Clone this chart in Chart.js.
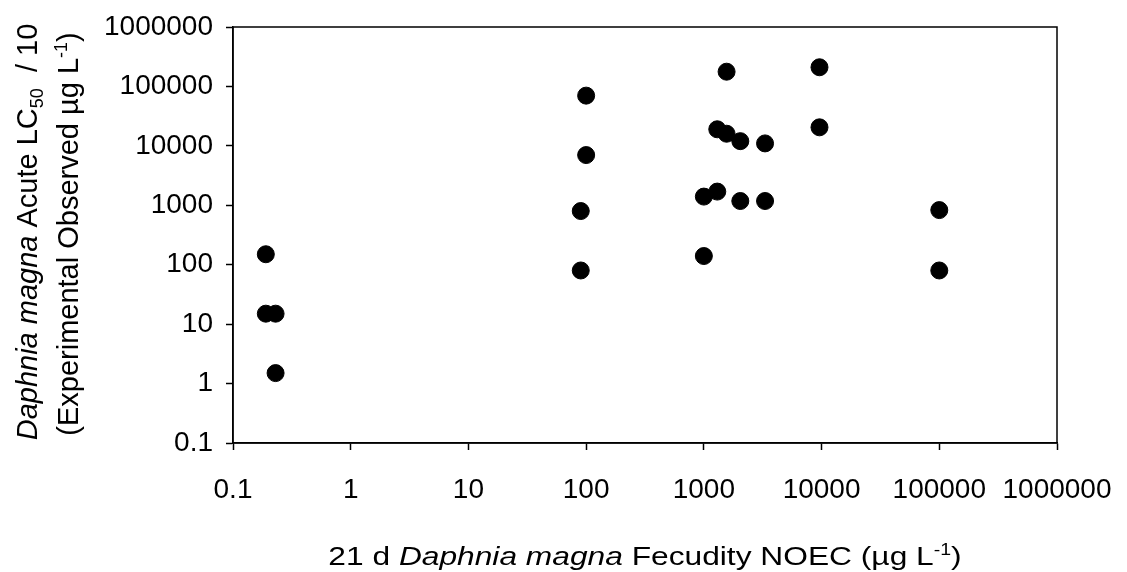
<!DOCTYPE html>
<html>
<head>
<meta charset="utf-8">
<script src="https://cdn.jsdelivr.net/npm/chart.js@4"></script>
<style>
  html, body { margin: 0; padding: 0; background: #fff; }
  #wrap { width: 1127px; height: 572px; position: relative; }
</style>
</head>
<body>
<div id="wrap"><canvas id="c" width="1127" height="572"></canvas></div>
<script>
// ---- data ----
const noecX = [0.19, 0.19, 0.23, 0.23, 100, 100, 90, 90, 1000, 1000, 1300, 1300, 1560, 1560, 2040, 2040, 3310, 3310, 9600, 9600, 100000, 100000];
const acuteY = [150, 15, 15, 1.5, 70000, 7000, 800, 80, 1400, 140, 1700, 19000, 177000, 16000, 12000, 1180, 11000, 1180, 210000, 20500, 830, 80];
const tickValues = [0.1, 1, 10, 100, 1000, 10000, 100000, 1000000];
const tickLabels = ['0.1', '1', '10', '100', '1000', '10000', '100000', '1000000'];

const FONT = "'Liberation Sans', Arial, sans-serif";

const points = noecX.map((x, i) => ({ x: x, y: acuteY[i] }));

function drawRuns(ctx, runs, size) {
  const fontFor = r => {
    if (r.style === 'i') return 'italic ' + size + 'px ' + FONT;
    if (r.style === 'sub' || r.style === 'sup') return Math.round(size * 0.62) + 'px ' + FONT;
    return size + 'px ' + FONT;
  };
  let total = 0;
  runs.forEach(r => { ctx.font = fontFor(r); r.w = ctx.measureText(r.t).width; total += r.w; });
  let x = -total / 2;
  runs.forEach(r => {
    ctx.font = fontFor(r);
    let dy = 0;
    if (r.style === 'sub') dy = size * 0.2;
    if (r.style === 'sup') dy = -size * 0.38;
    ctx.fillText(r.t, x, dy);
    x += r.w;
  });
}

const titlesPlugin = {
  id: 'titles',
  afterDraw(chart) {
    const ctx = chart.ctx;
    const ca = chart.chartArea;
    ctx.save();
    ctx.strokeStyle = '#000';
    ctx.lineWidth = 1.5;
    ctx.strokeRect(ca.left, ca.top, ca.right - ca.left, ca.bottom - ca.top);
    ctx.fillStyle = '#000';
    ctx.textBaseline = 'alphabetic';
    ctx.textAlign = 'left';
    // x title
    ctx.save();
    ctx.translate((ca.left + ca.right) / 2, 565);
    ctx.scale(1.22, 1);
    drawRuns(ctx, [
      { t: '21 d ', style: 'n' },
      { t: 'Daphnia magna', style: 'i' },
      { t: ' Fecudity NOEC (\u00b5g L', style: 'n' },
      { t: '-1', style: 'sup' },
      { t: ')', style: 'n' }
    ], 26);
    ctx.restore();
    // y title line 1
    const cy = (ca.top + ca.bottom) / 2 - 3;
    ctx.save();
    ctx.translate(37, cy);
    ctx.rotate(-Math.PI / 2);
    drawRuns(ctx, [
      { t: 'Daphnia magna', style: 'i' },
      { t: ' Acute LC', style: 'n' },
      { t: '50', style: 'sub' },
      { t: '  / 10', style: 'n' }
    ], 29);
    ctx.restore();
    // y title line 2
    ctx.save();
    ctx.translate(78, cy + 2);
    ctx.rotate(-Math.PI / 2);
    drawRuns(ctx, [
      { t: '(Experimental Observed \u00b5g L', style: 'n' },
      { t: '-1', style: 'sup' },
      { t: ')', style: 'n' }
    ], 29);
    ctx.restore();
    ctx.restore();
  }
};

const axisCommon = (fitFn) => ({
  type: 'logarithmic',
  min: 0.1,
  max: 1000000,
  afterBuildTicks(scale) { scale.ticks = tickValues.map(v => ({ value: v })); },
  afterFit: fitFn,
  grid: {
    display: true,
    drawOnChartArea: false,
    drawTicks: true,
    tickLength: 7,
    tickColor: '#000',
    tickWidth: 1.5
  },
  border: { display: true, color: '#000', width: 1.5 },
  ticks: {
    autoSkip: false,
    maxRotation: 0,
    minRotation: 0,
    color: '#000',
    font: { family: FONT, size: 28 },
    callback: function (v, i) { return tickLabels[i]; }
  }
});

const xAxis = axisCommon(s => { s.height = 129; s.paddingLeft = 0; s.paddingRight = 0; });
xAxis.ticks.padding = 23;
const yAxis = axisCommon(s => { s.width = 233; s.paddingTop = 0; s.paddingBottom = 0; });
yAxis.ticks.padding = 13;

new Chart(document.getElementById('c'), {
  type: 'scatter',
  data: {
    datasets: [{
      data: points,
      backgroundColor: '#000',
      borderColor: '#000',
      borderWidth: 1,
      pointRadius: 8.5,
      pointHoverRadius: 8.5
    }]
  },
  options: {
    responsive: false,
    animation: false,
    devicePixelRatio: 1,
    layout: { padding: { top: 27, right: 70, left: 0, bottom: 0 } },
    plugins: { legend: { display: false }, tooltip: { enabled: false }, title: { display: false } },
    scales: { x: xAxis, y: yAxis }
  },
  plugins: [titlesPlugin]
});
</script>
</body>
</html>
